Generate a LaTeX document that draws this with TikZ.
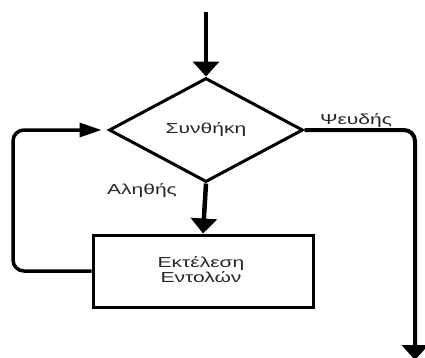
\documentclass[tikz,border=0pt]{standalone}
\usepackage{fontspec}
\setmainfont{Liberation Sans}
\newfontfamily\grfont[FakeStretch=1.45]{Liberation Sans}
\usetikzlibrary{shapes.geometric,arrows.meta}
\begin{document}
\begin{tikzpicture}[x=1pt,y=-1pt,
  lbl/.style={font=\grfont\fontsize{14.5}{16}\selectfont, text=black!85, inner sep=0pt},
  decision/.style={diamond, draw, line width=3pt, minimum width=194pt, minimum height=104pt, inner sep=0pt},
  procbox/.style={rectangle, draw, line width=3pt, minimum width=220pt, minimum height=72pt, align=center, inner sep=0pt},
  vhead/.style={-{Triangle[width=26pt,length=15pt]}},
  hhead/.style={-{Triangle[width=14pt,length=22pt]}}]
\useasboundingbox (0,0) rectangle (425,357);
\node[decision] (cond) at (206,130) {};
\node[lbl] (condtxt) at (206,130) {Συνθήκη};
\node[procbox] (proc) at (203,271) {};
\node[lbl, align=center] (proctxt) at (201,270) {Εκτέλεση\\[-1pt]Εντολών};
\coordinate (start) at (206,12);
\coordinate (loop) at (13,130);
\coordinate (finish) at (415,360);
\node[lbl] (false) at (356,121) {Ψευδής};
\node[lbl] (true) at (142,191) {Αληθής};
\draw[vhead, line width=4.5pt] (start) -- (cond.north);
\draw[vhead, line width=4.5pt] (cond.south) -- (proc.north);
\draw[line width=3.5pt, rounded corners=11pt] (proc.west) -| (loop) -- ([xshift=-12pt]cond.west);
\draw[hhead, line width=3pt] ([xshift=-40pt]cond.west) -- ([xshift=-6pt]cond.west);
\draw[vhead, line width=4pt, rounded corners=11pt] (cond.east) -| (finish);
\end{tikzpicture}
\end{document}
